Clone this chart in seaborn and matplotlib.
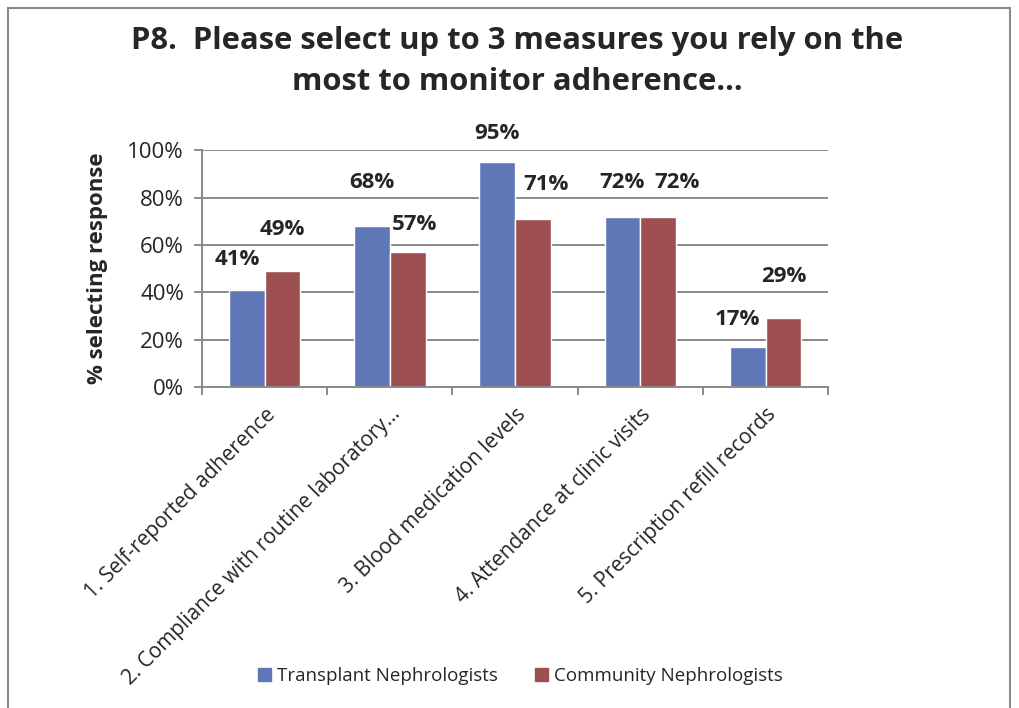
import numpy as np
import pandas as pd
import seaborn as sns
import matplotlib.pyplot as plt
from matplotlib.patches import Rectangle

# data
categories = ["1. Self-reported adherence",
              "2. Compliance with routine laboratory...",
              "3. Blood medication levels",
              "4. Attendance at clinic visits",
              "5. Prescription refill records"]
groups = ["Transplant Nephrologists", "Community Nephrologists"]
transplant = [0.41, 0.68, 0.95, 0.72, 0.17]
community = [0.49, 0.57, 0.71, 0.72, 0.29]

# label offsets (pixels) as the labels were dragged around in the original
off_transplant = [(-9, 31), (0, 43), (0, 28), (0, 34), (-10, 27)]
off_community = [(0, 42), (7, 28), (13, 34), (19, 34), (0, 42)]

df = pd.DataFrame({
    "cat": categories * 2,
    "group": [groups[0]] * 5 + [groups[1]] * 5,
    "val": transplant + community,
})

sns.set_style("white")
plt.rcParams['font.family'] = ['Open Sans', 'DejaVu Sans']

colors = ["#5F77B6", "#9D4F52"]
fig = plt.figure(figsize=(10.2, 7.08), dpi=100)
ax = fig.add_axes([0.198, 0.453, 0.614, 0.335])

sns.barplot(data=df, x="cat", y="val", hue="group", palette=colors,
            width=0.57, saturation=1, ax=ax, legend=False)

ax.set_ylim(0, 1)
ax.set_xlim(-0.5, 4.5)
ax.set_yticks(np.arange(0, 1.01, 0.2))
ax.set_yticklabels([f"{int(round(t*100))}%" for t in np.arange(0, 1.01, 0.2)], fontsize=16)
ax.yaxis.grid(True, color="#8a8a8a", linewidth=1.4)
ax.set_axisbelow(True)
for s in ["top", "right"]:
    ax.spines[s].set_visible(False)
for s in ["left", "bottom"]:
    ax.spines[s].set_color("#8a8a8a")
    ax.spines[s].set_linewidth(1.4)
ax.tick_params(axis="y", which="major", length=6, color="#8a8a8a", width=1.4, left=True, pad=7)

ax.set_xticks(range(5))
ax.set_xticklabels(categories, rotation=45, ha="right", rotation_mode="anchor", fontsize=15)
ax.tick_params(axis="x", which="major", length=0, pad=12)
ax.set_xticks(np.arange(-0.5, 5, 1), minor=True)
ax.tick_params(axis="x", which="minor", length=6, color="#8a8a8a", width=1.4, bottom=True)
ax.set_xlabel("")
ax.set_ylabel("% selecting response", fontsize=16, fontweight="bold", labelpad=14)

# data labels
for bars, vals, offs in zip(ax.containers, [transplant, community], [off_transplant, off_community]):
    for b, v, (dx, dy) in zip(bars, vals, offs):
        ax.annotate(f"{int(round(v*100))}%", (b.get_x() + b.get_width() / 2, b.get_height()),
                    xytext=(dx, dy), textcoords="offset pixels", ha="center", va="center",
                    fontsize=16, fontweight="bold")

fig.text(0.507, 0.913, "P8.  Please select up to 3 measures you rely on the\nmost to monitor adherence...",
         ha="center", va="center", fontsize=22.3, fontweight="bold", linespacing=1.45)

handles = [Rectangle((0, 0), 1, 1, color=c) for c in colors]
fig.legend(handles, groups, loc="center", bbox_to_anchor=(0.51, 0.045), ncol=2, frameon=False,
           fontsize=13.5, handlelength=0.7, handleheight=0.7, handletextpad=0.3, columnspacing=2.0)

# outer chart frame
fig.patches.append(Rectangle((8 / 1020, -0.05), 1002 / 1020, 1 - 8 / 708 + 0.05,
                             transform=fig.transFigure, fill=False, edgecolor="#8a8a8a", linewidth=1.5))

fig.savefig("out.png", dpi=100)
